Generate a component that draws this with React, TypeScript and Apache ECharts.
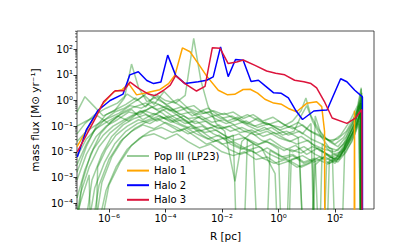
import React, { useEffect, useRef } from "react";
import * as echarts from "echarts";

// Axis ranges in log10 units
const X_MIN = -7.13;
const X_MAX = 3.38;
const Y_MIN = -4.23;
const Y_MAX = 2.71;

const xTickExps = [-6, -4, -2, 0, 2];
const yTickExps = [-4, -3, -2, -1, 0, 1, 2];

// Values below as [log10 R (pc), log10 mass flux (Msun/yr)]; -10 marks a zero (drops off the log axis)
const halo1: number[][] = [
  [-7.13, -1.8], [-6.54, -0.7], [-6.25, -0.18], [-5.83, 0.34], [-5.54, 0.42], [-5.3, 0.66], [-5.02, 0.22],
  [-4.6, 0.32], [-4.2, 0.42], [-3.89, 0.66], [-3.66, 1.0], [-3.4, 2.05], [-3.13, 1.9], [-2.84, 1.44],
  [-2.54, 0.95], [-2.13, 0.4], [-1.8, 0.22], [-1.55, 0.24], [-1.25, 0.43], [-1.0, 0.44], [-0.74, 0.29],
  [-0.48, 0.05], [-0.17, -0.1], [0.11, -0.15], [0.35, -0.31], [0.64, -0.44], [1.0, -0.11], [1.35, -0.05],
  [1.53, -0.24], [1.63, -1.2], [1.65, -10], [2.67, -10], [2.69, -0.4], [2.71, -10],
];

const halo2: number[][] = [
  [-7.12, -2.2], [-6.8, -1.15], [-6.4, -0.4], [-5.96, 0.0], [-5.5, 0.25], [-5.26, 1.0], [-4.96, 1.12],
  [-4.66, 0.78], [-4.42, 0.66], [-4.16, 0.72], [-3.92, 1.77], [-3.64, 0.98], [-3.31, 0.66], [-2.84, 0.73],
  [-2.54, 0.79], [-2.31, 0.92], [-2.05, 2.09], [-1.78, 0.93], [-1.52, 1.6], [-1.25, 1.57], [-0.97, 0.74],
  [-0.71, 0.79], [-0.48, 0.58], [-0.17, 0.3], [0.1, 0.28], [0.35, 0.1], [0.62, -0.4], [0.85, -0.74],
  [1.25, -0.41], [1.55, -0.38], [1.72, -0.37], [2.2, 0.85], [2.42, 0.73], [2.7, 0.4], [2.97, 0.14], [2.975, -10],
];

const halo3: number[][] = [
  [-7.12, -2.0], [-6.48, -0.7], [-6.19, -0.05], [-5.78, 0.38], [-5.48, 0.38], [-5.25, 0.72], [-4.95, 0.47],
  [-4.6, 0.25], [-4.37, 0.19], [-4.06, 0.4], [-3.83, 0.6], [-3.64, 0.97], [-3.31, 0.66], [-2.9, 0.37],
  [-2.6, 0.55], [-2.34, 2.06], [-2.07, 2.04], [-1.78, 1.44], [-1.48, 1.5], [-1.25, 1.58], [-0.83, 1.37],
  [-0.42, 1.15], [-0.1, 1.06], [0.22, 1.0], [0.57, 0.79], [0.9, 0.73], [1.15, 0.66], [1.35, 0.49],
  [1.62, -0.03], [1.9, -0.68], [2.42, -0.89], [2.71, -0.7], [2.95, -0.35], [2.96, -10],
];

const popIII01: number[][] = [[-7.13,-0.45],[-6.85,0.15],[-6.55,-0.2],[-6.2,-0.6],[-5.8,-0.4],[-5.45,0.1],[-5.2,1.42],[-4.95,0.5],[-4.65,-0.05],[-4.3,0.15],[-3.95,-0.2],[-3.6,-0.45],[-3.2,-0.7],[-2.8,-0.65],[-2.4,-0.95],[-2.0,-1.1],[-1.6,-0.95],[-1.2,-1.2],[-0.8,-1.35],[-0.4,-1.2],[0.0,-1.45],[0.4,-1.6],[0.8,-1.4],[1.2,-1.7],[1.6,-1.9],[2.0,-2.0],[2.3,-1.7],[2.6,-1.0],[2.85,-0.3],[2.95,0.2],[2.96,-10]];
const popIII02: number[][] = [[-7.13,-2.8],[-6.8,-1.8],[-6.45,-1.0],[-6.1,-0.55],[-5.75,-0.35],[-5.4,-0.15],[-5.05,0.1],[-4.7,-0.25],[-4.35,0.25],[-4.0,0.0],[-3.65,-0.1],[-3.3,0.2],[-3.0,2.42],[-2.75,0.8],[-2.5,-0.2],[-2.2,-0.9],[-1.9,-1.2],[-1.54,-3.15],[-1.3,-1.6],[-0.95,-1.25],[-0.6,-1.55],[-0.2,-1.7],[0.2,-1.95],[0.6,-1.75],[1.0,-2.1],[1.4,-1.85],[1.8,-2.2],[2.15,-2.3],[2.45,-1.5],[2.75,-0.7],[2.93,0.45],[2.95,-10]];
const popIII03: number[][] = [[-7.13,-5],[-6.95,-3.2],[-6.65,-2.1],[-6.3,-1.3],[-5.9,-0.8],[-5.5,-0.45],[-5.1,-0.25],[-4.7,-0.1],[-4.3,-0.35],[-3.9,-0.2],[-3.5,-0.55],[-3.1,-0.45],[-2.7,-0.75],[-2.3,-0.6],[-1.9,-0.5],[-1.5,-0.75],[-1.1,-0.55],[-0.7,-0.8],[-0.3,-0.95],[0.1,-1.05],[0.5,-0.8],[0.8,-0.4],[0.97,0.1],[1.15,-0.6],[1.4,-1.1],[1.7,-1.5],[2.0,-1.7],[2.3,-1.45],[2.6,-0.9],[2.85,-0.2],[2.95,-10]];
const popIII04: number[][] = [[-6.85,-5],[-6.6,-3.1],[-6.25,-2.1],[-5.9,-1.4],[-5.5,-0.95],[-5.1,-0.7],[-4.7,-0.55],[-4.3,-0.8],[-3.9,-0.6],[-3.5,-0.9],[-3.1,-1.1],[-2.7,-1.0],[-2.3,-1.3],[-1.9,-1.5],[-1.6,-1.35],[-1.36,-10],[-1.1,-1.5],[-0.7,-1.7],[-0.3,-1.5],[0.1,-1.8],[0.5,-2.0],[0.9,-1.8],[1.3,-2.1],[1.7,-2.3],[2.1,-2.1],[2.4,-1.6],[2.7,-0.9],[2.92,-0.1],[2.95,-10]];
const popIII05: number[][] = [[-7.13,-3.1],[-6.8,-2.1],[-6.45,-1.4],[-6.1,-1.0],[-5.7,-0.75],[-5.3,-0.45],[-4.9,-0.55],[-4.5,-0.25],[-4.1,-0.5],[-3.7,-0.85],[-3.3,-1.05],[-2.9,-1.3],[-2.5,-1.5],[-2.1,-1.35],[-1.7,-1.7],[-1.3,-1.9],[-0.9,-1.7],[-0.56,-10],[-0.3,-1.95],[0.1,-2.2],[0.5,-2.1],[0.9,-2.4],[1.3,-2.25],[1.7,-2.45],[2.05,-2.2],[2.35,-1.8],[2.65,-1.2],[2.9,-0.5],[2.95,-10]];
const popIII06: number[][] = [[-6.75,-5],[-6.5,-3.4],[-6.15,-2.4],[-5.8,-1.7],[-5.4,-1.2],[-5.0,-0.9],[-4.6,-0.75],[-4.2,-0.6],[-3.8,-0.85],[-3.4,-0.75],[-3.0,-1.0],[-2.6,-1.25],[-2.2,-1.15],[-1.8,-1.45],[-1.4,-1.3],[-1.0,-1.6],[-0.6,-1.85],[-0.12,-2.85],[0.14,-10],[0.4,-1.9],[0.8,-2.05],[1.2,-1.8],[1.6,-2.0],[2.0,-2.3],[2.3,-1.9],[2.6,-1.3],[2.85,-0.6],[2.95,0.3],[2.96,-10]];
const popIII07: number[][] = [[-7.13,-1.0],[-6.8,-0.8],[-6.4,-0.6],[-6.0,-0.9],[-5.6,-0.55],[-5.2,-0.35],[-4.8,-0.75],[-4.4,-0.5],[-4.0,-0.7],[-3.6,-0.55],[-3.2,-0.85],[-2.8,-1.2],[-2.4,-1.05],[-2.0,-1.3],[-1.6,-1.55],[-1.2,-1.45],[-0.8,-1.75],[-0.4,-1.6],[0.0,-1.9],[0.23,-10],[0.45,-2.3],[0.85,-2.15],[1.25,-2.4],[1.65,-2.2],[2.0,-2.45],[2.3,-2.0],[2.6,-1.45],[2.85,-0.8],[2.95,-10]];
const popIII08: number[][] = [[-6.6,-5],[-6.35,-3.3],[-6.0,-2.3],[-5.6,-1.6],[-5.2,-1.2],[-4.8,-0.95],[-4.4,-1.1],[-4.0,-0.85],[-3.6,-1.05],[-3.2,-1.3],[-2.8,-1.15],[-2.4,-1.45],[-2.0,-1.7],[-1.6,-1.6],[-1.2,-1.85],[-0.8,-2.05],[-0.4,-1.85],[0.0,-2.1],[0.4,-2.35],[0.75,-2.2],[1.02,-10],[1.3,-2.5],[1.7,-2.1],[2.05,-2.35],[2.35,-1.9],[2.65,-1.2],[2.9,-0.4],[2.95,-10]];
const popIII09: number[][] = [[-7.13,-2.2],[-6.8,-1.5],[-6.45,-1.1],[-6.1,-0.85],[-5.7,-0.6],[-5.3,-0.8],[-4.9,-0.4],[-4.5,-0.65],[-4.1,-0.35],[-3.7,-0.65],[-3.3,-0.9],[-2.9,-0.8],[-2.5,-1.1],[-2.1,-0.95],[-1.7,-1.2],[-1.3,-1.05],[-0.9,-1.25],[-0.5,-1.05],[-0.1,-1.3],[0.3,-1.2],[0.7,-1.45],[1.09,-10],[1.3,-0.6],[1.5,-1.3],[1.8,-1.6],[2.1,-1.8],[2.4,-1.4],[2.7,-0.7],[2.93,0.2],[2.95,-10]];
const popIII10: number[][] = [[-7.13,-4.4],[-7.0,-3.6],[-6.7,-2.6],[-6.35,-1.8],[-5.95,-1.25],[-5.55,-0.9],[-5.15,-0.6],[-4.75,-0.4],[-4.35,-0.55],[-3.95,-0.3],[-3.55,-0.6],[-3.15,-0.85],[-2.75,-0.6],[-2.35,-0.85],[-1.95,-0.75],[-1.55,-0.95],[-1.15,-0.8],[-0.75,-1.05],[-0.35,-0.9],[0.05,-1.15],[0.45,-1.0],[0.85,-1.3],[1.15,-0.9],[1.35,-10],[1.55,-1.7],[1.85,-2.0],[2.15,-2.2],[2.45,-1.7],[2.75,-1.0],[2.95,-0.3],[2.96,-10]];
const popIII11: number[][] = [[-6.5,-5],[-6.25,-3.2],[-5.9,-2.2],[-5.5,-1.5],[-5.1,-1.1],[-4.7,-0.85],[-4.3,-0.7],[-3.9,-0.95],[-3.5,-1.2],[-3.1,-1.0],[-2.7,-1.35],[-2.3,-1.6],[-1.9,-1.45],[-1.5,-1.75],[-1.1,-1.95],[-0.7,-1.8],[-0.3,-2.1],[0.1,-2.3],[0.5,-2.15],[0.9,-2.45],[1.3,-2.3],[1.59,-10],[1.8,-2.3],[2.1,-2.4],[2.4,-2.0],[2.7,-1.3],[2.93,-0.5],[2.95,-10]];
const popIII12: number[][] = [[-7.13,-1.6],[-6.8,-1.2],[-6.45,-0.95],[-6.05,-0.7],[-5.65,-0.5],[-5.25,-0.2],[-4.85,-0.3],[-4.45,-0.05],[-4.05,-0.25],[-3.65,-0.45],[-3.25,-0.3],[-2.85,-0.55],[-2.45,-0.45],[-2.05,-0.7],[-1.65,-0.6],[-1.25,-0.85],[-0.85,-1.0],[-0.45,-0.85],[-0.05,-1.1],[0.35,-1.35],[0.75,-1.2],[1.15,-1.5],[1.55,-1.7],[1.9,-1.9],[2.12,-10],[2.35,-1.7],[2.65,-1.05],[2.9,-0.1],[2.95,-10]];
const popIII13: number[][] = [[-7.13,-4.4],[-6.9,-3.6],[-6.7,-2.9],[-6.56,-10],[-6.4,-2.6],[-6.1,-1.9],[-5.75,-1.35],[-5.35,-1.0],[-4.95,-0.75],[-4.55,-0.9],[-4.15,-0.65],[-3.75,-0.8],[-3.35,-0.6],[-2.95,-0.9],[-2.55,-0.8],[-2.15,-1.1],[-1.75,-1.0],[-1.35,-1.25],[-0.95,-1.15],[-0.55,-1.4],[-0.15,-1.25],[0.25,-1.5],[0.65,-1.7],[1.05,-1.55],[1.45,-1.95],[1.85,-2.15],[2.2,-2.0],[2.5,-1.5],[2.8,-0.85],[2.95,-0.2],[2.96,-10]];
const popIII14: number[][] = [[-7.13,-2.5],[-6.8,-1.7],[-6.5,-1.15],[-6.15,-0.75],[-5.8,-0.45],[-5.45,-0.3],[-5.1,-0.05],[-4.75,0.2],[-4.4,-0.15],[-4.05,0.35],[-3.7,-0.05],[-3.35,-0.3],[-3.0,-0.2],[-2.65,-0.5],[-2.3,-0.4],[-1.95,-0.55],[-1.6,-0.45],[-1.25,-0.7],[-0.9,-0.55],[-0.55,-0.8],[-0.2,-0.65],[0.15,-0.9],[0.5,-1.1],[0.85,-0.95],[1.2,-1.25],[1.55,-1.45],[1.9,-1.6],[2.2,-1.35],[2.5,-0.85],[2.8,-0.2],[2.93,0.5],[2.95,-10]];
const popIII15: number[][] = [[-6.4,-5],[-6.1,-3.5],[-5.75,-2.6],[-5.35,-1.9],[-4.95,-1.5],[-4.55,-1.2],[-4.15,-1.05],[-3.75,-1.25],[-3.35,-1.1],[-2.95,-1.4],[-2.55,-1.7],[-2.15,-1.55],[-1.75,-1.9],[-1.35,-2.1],[-0.95,-1.95],[-0.55,-2.25],[-0.15,-2.45],[0.25,-2.3],[0.65,-2.6],[1.05,-2.45],[1.45,-2.2],[1.8,-2.45],[2.1,-2.2],[2.4,-1.85],[2.7,-1.2],[2.92,-0.45],[2.95,-10]];
const popIII16: number[][] = [[-7.13,-3.8],[-6.85,-2.7],[-6.55,-1.9],[-6.2,-1.35],[-5.85,-1.0],[-5.45,-0.75],[-5.05,-0.5],[-4.65,-0.35],[-4.25,-0.15],[-3.85,-0.4],[-3.45,-0.25],[-3.05,-0.6],[-2.65,-0.4],[-2.25,-0.7],[-1.85,-0.9],[-1.45,-0.75],[-1.05,-1.0],[-0.65,-1.2],[-0.25,-1.05],[0.15,-1.35],[0.55,-1.2],[0.8,-0.6],[1.0,-0.2],[1.2,-0.8],[1.5,-1.4],[1.8,-1.85],[2.1,-1.95],[2.4,-1.55],[2.7,-0.9],[2.9,-0.1],[2.95,-10]];
const popIII17: number[][] = [[-7.13,-1.3],[-6.85,-0.9],[-6.5,-0.55],[-6.1,-0.3],[-5.7,-0.1],[-5.35,0.25],[-5.0,0.0],[-4.65,0.3],[-4.3,0.05],[-3.95,-0.15],[-3.55,0.05],[-3.2,-0.3],[-2.85,-0.45],[-2.5,-0.3],[-2.15,-0.55],[-1.8,-0.8],[-1.45,-0.65],[-1.1,-0.9],[-0.75,-0.7],[-0.4,-0.95],[0.0,-0.8],[0.35,-1.05],[0.7,-0.85],[1.05,-1.15],[1.45,-1.35],[1.8,-1.55],[2.1,-1.5],[2.4,-1.2],[2.7,-0.6],[2.9,0.0],[2.95,-10]];
const popIII18: number[][] = [[-6.3,-5],[-6.0,-3.3],[-5.6,-2.4],[-5.2,-1.75],[-4.8,-1.4],[-4.4,-1.3],[-4.0,-1.5],[-3.6,-1.3],[-3.2,-1.6],[-2.8,-1.85],[-2.4,-1.7],[-2.0,-2.0],[-1.6,-2.15],[-1.2,-2.0],[-0.8,-2.3],[-0.4,-2.2],[0.0,-2.5],[0.4,-2.35],[0.8,-2.6],[1.2,-2.4],[1.47,-10],[1.7,-2.5],[2.0,-2.35],[2.3,-2.1],[2.6,-1.6],[2.85,-0.9],[2.95,-10]];

const popIIIRuns = [popIII01, popIII02, popIII03, popIII04, popIII05, popIII06, popIII07, popIII08, popIII09,
  popIII10, popIII11, popIII12, popIII13, popIII14, popIII15, popIII16, popIII17, popIII18];

const legendNames = ["Pop III (LP23)", "Halo 1", "Halo 2", "Halo 3"];

const SUP: Record<string, string> = {
  "-": "\u207B", "0": "\u2070", "1": "\u00B9", "2": "\u00B2", "3": "\u00B3",
  "4": "\u2074", "5": "\u2075", "6": "\u2076", "7": "\u2077", "8": "\u2078", "9": "\u2079",
};
const pow10Label = (v: number) => "10" + String(Math.round(v)).split("").map((c) => SUP[c] || c).join("");

const yMinorExps: number[] = [];
for (let n = -5; n <= 2; n++) {
  for (let k = 2; k <= 9; k++) {
    const v = n + Math.log10(k);
    if (v > Y_MIN && v < Y_MAX) yMinorExps.push(v);
  }
}

const FONT = "DejaVu Sans";

export default function App() {
  const ref = useRef<HTMLDivElement>(null);
  useEffect(() => {
    if (!ref.current) return;
    const chart = echarts.init(ref.current, undefined, { renderer: "svg" });
    const tickLine = { color: "#000", width: 0.8 };
    const greenSeries = popIIIRuns.map((run) => ({
      name: legendNames[0],
      type: "line",
      data: run,
      showSymbol: false,
      symbol: "none",
      clip: true,
      lineStyle: { color: "#008000", width: 1.5, opacity: 0.38 },
      itemStyle: { color: "#008000", opacity: 0.38 },
      emphasis: { disabled: true },
    }));
    const haloSeries = [
      { name: legendNames[1], data: halo1, color: "#FFA500" },
      { name: legendNames[2], data: halo2, color: "#0000FF" },
      { name: legendNames[3], data: halo3, color: "#DC143C" },
    ].map((s) => ({
      name: s.name,
      type: "line",
      data: s.data,
      showSymbol: false,
      symbol: "none",
      clip: true,
      lineStyle: { color: s.color, width: 1.5 },
      itemStyle: { color: s.color },
      emphasis: { disabled: true },
    }));
    const minorTickSeries = {
      type: "custom",
      silent: true,
      clip: false,
      data: yMinorExps.map((v) => [X_MIN, v]),
      renderItem: (_params: any, api: any) => {
        const p = api.coord([api.value(0), api.value(1)]);
        return {
          type: "line",
          shape: { x1: p[0] - 2, y1: p[1], x2: p[0], y2: p[1] },
          style: { stroke: "#000", lineWidth: 0.6 },
        };
      },
    };
    chart.setOption({
      animation: false,
      grid: {
        left: 77, right: 42, top: 31, bottom: 43,
        show: true, borderColor: "#222", borderWidth: 0.8, backgroundColor: "transparent",
      },
      legend: {
        orient: "vertical",
        left: 122,
        top: 146,
        itemWidth: 22,
        itemHeight: 10,
        itemGap: 4.6,
        icon: "path://M0,4 L22,4 L22,6 L0,6 Z",
        textStyle: { fontSize: 10, fontFamily: FONT, color: "#000" },
        data: [
          { name: legendNames[0], itemStyle: { color: "#99cc99", opacity: 1 } },
          { name: legendNames[1], itemStyle: { color: "#FFA500" } },
          { name: legendNames[2], itemStyle: { color: "#0000FF" } },
          { name: legendNames[3], itemStyle: { color: "#DC143C" } },
        ],
      },
      xAxis: {
        type: "value", min: X_MIN, max: X_MAX, position: "bottom",
        axisLine: { show: false, onZero: false }, splitLine: { show: false },
        axisTick: { show: true, length: 3.5, lineStyle: tickLine, customValues: xTickExps },
        axisLabel: { customValues: xTickExps, formatter: pow10Label, fontSize: 10, fontFamily: FONT, color: "#000", margin: 4 },
        name: "R [pc]", nameLocation: "middle", nameGap: 21,
        nameTextStyle: { fontSize: 10.5, fontFamily: FONT, color: "#000" },
      },
      yAxis: {
        type: "value", min: Y_MIN, max: Y_MAX, position: "left",
        axisLine: { show: false, onZero: false }, splitLine: { show: false },
        axisTick: { show: true, length: 3.5, lineStyle: tickLine, customValues: yTickExps },
        axisLabel: { customValues: yTickExps, formatter: pow10Label, fontSize: 10, fontFamily: FONT, color: "#000", margin: 4 },
        name: "mass flux [M\u2299 yr\u207B\u00B9]", nameLocation: "middle", nameGap: 33,
        nameTextStyle: { fontSize: 10.5, fontFamily: FONT, color: "#000" },
      },
      series: [...greenSeries, ...haloSeries, minorTickSeries],
    });
    return () => chart.dispose();
  }, []);
  return <div ref={ref} style={{ position: "absolute", left: 0, top: 0, width: 416, height: 252 }} />;
}
